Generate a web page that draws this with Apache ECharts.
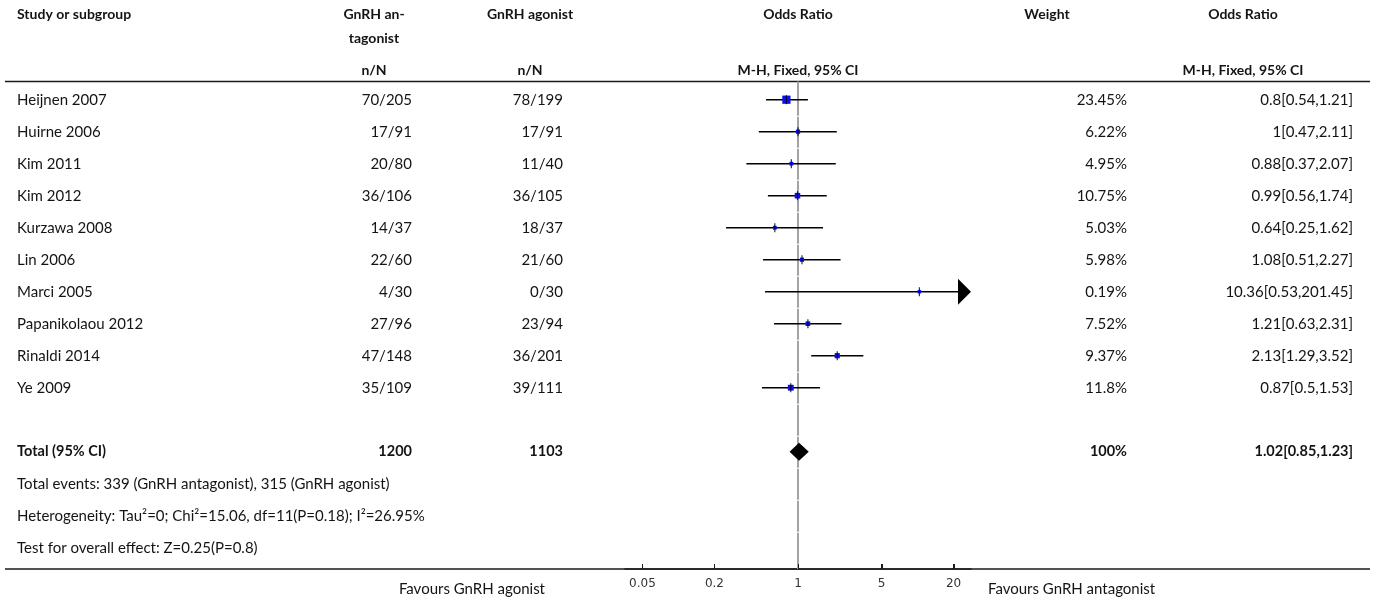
<!DOCTYPE html>
<html>
<head>
<meta charset="utf-8">
<script src="https://cdn.jsdelivr.net/npm/echarts@6/dist/echarts.min.js"></script>
<style>
  html, body { margin: 0; padding: 0; background: #ffffff; }
  #chart { width: 1375px; height: 601px; }
</style>
</head>
<body>
<div id="chart"></div>
<script>
// ---- Study data: GnRH antagonist vs GnRH agonist, odds ratios (M-H, fixed) ----
const studies = ['Heijnen 2007', 'Huirne 2006', 'Kim 2011', 'Kim 2012', 'Kurzawa 2008',
  'Lin 2006', 'Marci 2005', 'Papanikolaou 2012', 'Rinaldi 2014', 'Ye 2009'];
const antagonistEvents = [70, 17, 20, 36, 14, 22, 4, 27, 47, 35];
const antagonistTotal  = [205, 91, 80, 106, 37, 60, 30, 96, 148, 109];
const agonistEvents    = [78, 17, 11, 36, 18, 21, 0, 23, 36, 39];
const agonistTotal     = [199, 91, 40, 105, 37, 60, 30, 94, 201, 111];
const weights          = [23.45, 6.22, 4.95, 10.75, 5.03, 5.98, 0.19, 7.52, 9.37, 11.8];
const oddsRatios       = [0.8, 1, 0.88, 0.99, 0.64, 1.08, 10.36, 1.21, 2.13, 0.87];
const ciLower          = [0.54, 0.47, 0.37, 0.56, 0.25, 0.51, 0.53, 0.63, 1.29, 0.5];
const ciUpper          = [1.21, 2.11, 2.07, 1.74, 1.62, 2.27, 201.45, 2.31, 3.52, 1.53];

// Pooled estimate
const totalAntagonist = 1200;
const totalAgonist = 1103;
const totalWeight = 100;
const totalOr = 1.02;
const totalLower = 0.85;
const totalUpper = 1.23;

const footerLines = [
  'Total events: 339 (GnRH antagonist), 315 (GnRH agonist)',
  'Heterogeneity: Tau\u00b2=0; Chi\u00b2=15.06, df=11(P=0.18); I\u00b2=26.95%',
  'Test for overall effect: Z=0.25(P=0.8)'
];

// Axis ticks of the odds-ratio scale
const tickValues = [0.05, 0.2, 1, 5, 20];
const tickLabels = ['0.05', '0.2', '1', '5', '20'];
const axisLimit = 28;   // scale runs from 1/28 to 28

// ---- Layout ----
const W = 1375, H = 601;
const ROW0 = 99.7, ROW_H = 32;            // first study row centre, row pitch (px)
const Y_MIN = -ROW0 / ROW_H;
const Y_MAX = (H - ROW0) / ROW_H;
const pxToRow = p => (p - ROW0) / ROW_H;
const HEADER_RULE_ROW = pxToRow(81.5);
const AXIS_PX = 569;
const AXIS_ROW = pxToRow(AXIS_PX);
const TOTAL_ROW = 11;
const PLOT_LEFT = 625, PLOT_WIDTH = 346;
const X_MIN = -Math.log10(axisLimit), X_MAX = Math.log10(axisLimit);
const TICK_POS = tickValues.map(v => Math.log10(v));

const FONT = 'Lato, "Noto Sans", sans-serif';
const TEXT = '#141414';
const BLUE = '#0c0cee';

// Column anchors (px)
const COL = { study: 17, ant: 412, ago: 563, weight: 1127, orText: 1353,
  antHead: 374, agoHead: 530, plotHead: 798, weightHead: 1047, orHead: 1243 };

// ---- Table text cells ----
const cells = [];
const cell = (x, row, text, align, weight, size) =>
  cells.push({ x, row, text, align, bold: weight === 'bold', size: size || 15 });

cell(COL.study, pxToRow(14), 'Study or subgroup', 'left', 'bold', 14);
cell(COL.antHead, pxToRow(14), 'GnRH an-', 'center', 'bold', 14);
cell(COL.antHead, pxToRow(38.5), 'tagonist', 'center', 'bold', 14);
cell(COL.agoHead, pxToRow(14), 'GnRH agonist', 'center', 'bold', 14);
cell(COL.plotHead, pxToRow(14), 'Odds Ratio', 'center', 'bold', 14);
cell(COL.weightHead, pxToRow(14), 'Weight', 'center', 'bold', 14);
cell(COL.orHead, pxToRow(14), 'Odds Ratio', 'center', 'bold', 14);
cell(COL.antHead, pxToRow(70), 'n/N', 'center', 'bold', 14);
cell(COL.agoHead, pxToRow(70), 'n/N', 'center', 'bold', 14);
cell(COL.plotHead, pxToRow(70), 'M-H, Fixed, 95% CI', 'center', 'bold', 14);
cell(COL.orHead, pxToRow(70), 'M-H, Fixed, 95% CI', 'center', 'bold', 14);

studies.forEach((name, i) => {
  cell(COL.study, i, name, 'left');
  cell(COL.ant, i, antagonistEvents[i] + '/' + antagonistTotal[i], 'right');
  cell(COL.ago, i, agonistEvents[i] + '/' + agonistTotal[i], 'right');
  cell(COL.weight, i, weights[i] + '%', 'right');
  cell(COL.orText, i, oddsRatios[i] + '[' + ciLower[i] + ',' + ciUpper[i] + ']', 'right');
});

cell(COL.study, TOTAL_ROW, 'Total (95% CI)', 'left', 'bold', 14.5);
cell(COL.ant, TOTAL_ROW, String(totalAntagonist), 'right', 'bold', 14.5);
cell(COL.ago, TOTAL_ROW, String(totalAgonist), 'right', 'bold', 14.5);
cell(COL.weight, TOTAL_ROW, totalWeight + '%', 'right', 'bold', 14.5);
cell(COL.orText, TOTAL_ROW, totalOr.toFixed(2) + '[' + totalLower + ',' + totalUpper + ']', 'right', 'bold', 14.5);

footerLines.forEach((t, k) => cell(COL.study, TOTAL_ROW + 1 + k, t, 'left'));

cell(545, pxToRow(589), 'Favours GnRH agonist', 'right');
cell(988, pxToRow(589), 'Favours GnRH antagonist', 'left');

// Horizontal rules spanning the table
const rules = [HEADER_RULE_ROW, AXIS_ROW];

// ---- Forest data (log10 scale) ----
const forestData = studies.map((_, i) => [
  Math.log10(oddsRatios[i]), i, Math.log10(ciLower[i]), Math.log10(ciUpper[i]), weights[i]
]);
const refRows = [];
for (let r = 0; r <= 14; r++) refRows.push([0, r]);

const chart = echarts.init(document.getElementById('chart'), null, { renderer: 'canvas' });

chart.setOption({
  animation: false,
  backgroundColor: '#ffffff',
  grid: [
    { left: 0, top: 0, width: W, height: H },
    { left: PLOT_LEFT, top: 0, width: PLOT_WIDTH, height: H }
  ],
  xAxis: [
    { gridIndex: 0, type: 'value', min: 0, max: W, show: false },
    {
      gridIndex: 1, type: 'value', min: X_MIN, max: X_MAX,
      position: 'bottom', offset: -(H - AXIS_PX),
      axisLine: { show: true, onZero: false, lineStyle: { color: '#2a2a2a', width: 1.5 } },
      axisTick: {
        show: true, inside: true, length: 5,
        customValues: TICK_POS,
        lineStyle: { color: '#1a1a1a', width: 1 }
      },
      axisLabel: {
        show: true, margin: 9,
        customValues: TICK_POS,
        fontFamily: '"DejaVu Sans", sans-serif', fontSize: 12, color: '#333333',
        formatter: v => {
          const k = TICK_POS.findIndex(t => Math.abs(t - v) < 1e-9);
          return k >= 0 ? tickLabels[k] : '';
        }
      },
      splitLine: { show: false }
    }
  ],
  yAxis: [
    { gridIndex: 0, type: 'value', min: Y_MIN, max: Y_MAX, inverse: true, show: false },
    { gridIndex: 1, type: 'value', min: Y_MIN, max: Y_MAX, inverse: true, show: false }
  ],
  series: [
    // table rules
    {
      type: 'custom', xAxisIndex: 0, yAxisIndex: 0, silent: true, z: 1,
      data: rules.map(r => [0, r]),
      renderItem: (params, api) => {
        const y = api.coord([0, api.value(1)])[1];
        return {
          type: 'line',
          shape: { x1: api.coord([5, 0])[0], y1: y, x2: api.coord([1370, 0])[0], y2: y },
          style: { stroke: '#1a1a1a', lineWidth: 1.5 }
        };
      }
    },
    // table text
    {
      type: 'custom', xAxisIndex: 0, yAxisIndex: 0, silent: true, z: 5,
      data: cells.map(c => [c.x, c.row]),
      renderItem: (params, api) => {
        const c = cells[params.dataIndex];
        const p = api.coord([api.value(0), api.value(1)]);
        return {
          type: 'text', x: p[0], y: p[1],
          style: {
            text: c.text, align: c.align, verticalAlign: 'middle',
            fontFamily: FONT, fontSize: c.size, fontWeight: c.bold ? 'bold' : 'normal',
            fill: TEXT
          }
        };
      }
    },
    // tick marks on the odds-ratio scale, pointing up from the axis line
    {
      type: 'custom', xAxisIndex: 1, yAxisIndex: 1, silent: true, z: 6,
      data: TICK_POS.map(v => [v, AXIS_ROW]),
      renderItem: (params, api) => {
        const p = api.coord([api.value(0), api.value(1)]);
        const x = Math.round(p[0]) + 0.5;
        return {
          type: 'line', shape: { x1: x, y1: p[1], x2: x, y2: p[1] - 5 },
          style: { stroke: '#1a1a1a', lineWidth: 1 }
        };
      }
    },
    // line of no effect (OR = 1), drawn row by row
    {
      type: 'custom', xAxisIndex: 1, yAxisIndex: 1, silent: true, z: 2,
      data: refRows,
      renderItem: (params, api) => {
        const r = api.value(1);
        const x = api.coord([api.value(0), r])[0];
        const top = r === 0 ? api.coord([0, HEADER_RULE_ROW])[1] : api.coord([0, r - 0.5])[1] + 1;
        const bot = r === 14 ? api.coord([0, AXIS_ROW])[1] : api.coord([0, r + 0.5])[1];
        return {
          type: 'line', shape: { x1: x, y1: top, x2: x, y2: bot },
          style: { stroke: '#a3a3a3', lineWidth: 2 }
        };
      }
    },
    // study estimates with confidence intervals
    {
      type: 'custom', xAxisIndex: 1, yAxisIndex: 1, silent: true, z: 3,
      data: forestData,
      renderItem: (params, api) => {
        const row = api.value(1);
        const y = api.coord([0, row])[1];
        const px = v => api.coord([v, row])[0];
        const cx = px(api.value(0));
        const lx = px(Math.max(api.value(2), X_MIN));
        const over = api.value(3) > X_MAX;
        const tipX = px(X_MAX);
        const arrowLen = 13, arrowHalf = 13;
        const hx = over ? tipX - arrowLen : px(api.value(3));
        const s = Math.max(3.5, Math.sqrt(api.value(4)) * 1.7);
        const children = [
          { type: 'line', shape: { x1: lx, y1: y, x2: hx, y2: y },
            style: { stroke: '#000000', lineWidth: 1.4 } },
          { type: 'rect', shape: { x: cx - s / 2, y: y - s / 2, width: s, height: s },
            style: { fill: BLUE } },
          { type: 'line', shape: { x1: cx, y1: y - 4.5, x2: cx, y2: y + 4.5 },
            style: { stroke: '#000000', lineWidth: 1.2, opacity: 0.8 } }
        ];
        if (over) {
          children.push({
            type: 'polygon',
            shape: { points: [[hx, y - arrowHalf], [tipX, y], [hx, y + arrowHalf]] },
            style: { fill: '#000000' }
          });
        }
        return { type: 'group', children };
      }
    },
    // pooled estimate diamond
    {
      type: 'custom', xAxisIndex: 1, yAxisIndex: 1, silent: true, z: 4,
      data: [[Math.log10(totalOr), TOTAL_ROW, Math.log10(totalLower), Math.log10(totalUpper)]],
      renderItem: (params, api) => {
        const row = api.value(1);
        const c = api.coord([api.value(0), row]);
        const lx = api.coord([api.value(2), row])[0];
        const hx = api.coord([api.value(3), row])[0];
        const half = 9;
        return {
          type: 'polygon',
          shape: { points: [[lx, c[1]], [c[0], c[1] - half], [hx, c[1]], [c[0], c[1] + half]] },
          style: { fill: '#000000' }
        };
      }
    }
  ]
});
</script>
</body>
</html>
